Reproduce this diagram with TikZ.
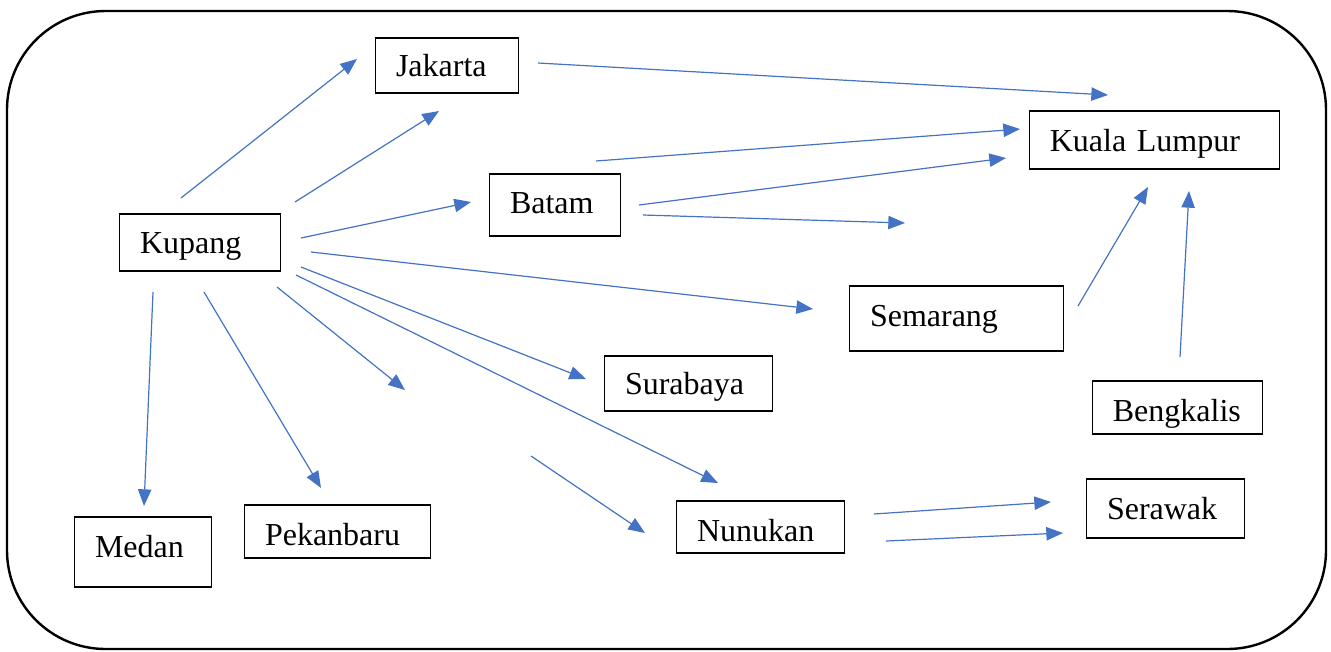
\documentclass[tikz,border=0pt]{standalone}
\usepackage{fontspec}
\setmainfont{Liberation Serif}
\usetikzlibrary{arrows.meta}
\definecolor{routeblue}{RGB}{68,114,196}
\tikzset{
  city/.style={draw, line width=0.8pt, inner xsep=15.5pt, inner ysep=0pt, align=left,
    font=\fontsize{24}{28}\selectfont, text height=20pt, text depth=3.5pt},
  route/.style={draw=routeblue, line width=0.9pt, -{Triangle[length=12.5pt,width=10pt]}}
}
\begin{document}
\begin{tikzpicture}[x=0.75pt, y=-0.75pt]
   \useasboundingbox (0,0) rectangle (1331,651);
   \draw[line width=1.8pt, rounded corners=74pt] (7,11) rectangle (1326,649);
   % cities
   \node[city, text width=76.5pt, minimum height=41.25pt] (J) at (447,65.5) {Jakarta};
   \node[city, text width=157pt, minimum height=43.5pt] (KL) at (1154.5,140) {Kuala Lumpur};
   \node[city, text width=67.5pt, minimum height=46.5pt, text height=15.5pt] (B) at (555,205) {Batam};
   \node[city, text width=90pt, minimum height=42.75pt] (K) at (200,242.5) {Kupang};
   \node[city, text width=129.75pt, minimum height=48.75pt, text height=15.5pt] (Se) at (956.5,318.5) {Semarang};
   \node[city, text width=95.25pt, minimum height=41.25pt] (Su) at (688.5,383.5) {Surabaya};
   \node[city, text width=97pt, minimum height=39.75pt, text height=24.5pt] (Be) at (1177.5,407.5) {Bengkalis};
   \node[city, text width=87.75pt, minimum height=44.25pt] (Sr) at (1165.5,508.5) {Serawak};
   \node[city, text width=95.25pt, minimum height=39pt, text height=24.5pt] (N) at (760.5,527) {Nunukan};
   \node[city, text width=72pt, minimum height=52.5pt, text height=11pt] (M) at (143,552) {Medan};
   \node[city, text width=108.75pt, minimum height=39.75pt, text height=24.5pt] (P) at (337.5,531.5) {Pekanbaru};
   % free ends of the routes
   \coordinate (K1) at (181,198);   \coordinate (J1) at (357,59);
   \coordinate (K2) at (295,202);   \coordinate (J2) at (439,111);
   \coordinate (K3) at (301,238);   \coordinate (B1) at (471,202);
   \coordinate (K4) at (311,252);   \coordinate (Se1) at (813,309);
   \coordinate (K5) at (301,267);   \coordinate (Su1) at (586,379);
   \coordinate (K6) at (296,275);   \coordinate (N1) at (718,483);
   \coordinate (K7) at (277,287);   \coordinate (X1) at (405,390);
   \coordinate (K8) at (204,292);   \coordinate (P1) at (321,488);
   \coordinate (K9) at (153,292);   \coordinate (M1) at (144,506);
   \coordinate (X2) at (531,456);   \coordinate (N2) at (645,533);
   \coordinate (J3) at (538,63);    \coordinate (KL1) at (1108,95);
   \coordinate (B2) at (596,161);   \coordinate (KL2) at (1020,129);
   \coordinate (B3) at (639,205);   \coordinate (KL3) at (1006,158);
   \coordinate (B4) at (643,215);   \coordinate (X3) at (905,223);
   \coordinate (Se2) at (1078,306); \coordinate (KL4) at (1148,187);
   \coordinate (Be1) at (1180,357); \coordinate (KL5) at (1189,191);
   \coordinate (N3) at (874,514);   \coordinate (Sr1) at (1051,502);
   \coordinate (N4) at (886,541);   \coordinate (Sr2) at (1063,533);
   % routes
   \draw[route] (K1) -- (J1);
   \draw[route] (K2) -- (J2);
   \draw[route] (K3) -- (B1);
   \draw[route] (K4) -- (Se1);
   \draw[route] (K5) -- (Su1);
   \draw[route] (K6) -- (N1);
   \draw[route] (K7) -- (X1);
   \draw[route] (K8) -- (P1);
   \draw[route] (K9) -- (M1);
   \draw[route] (X2) -- (N2);
   \draw[route] (J3) -- (KL1);
   \draw[route] (B2) -- (KL2);
   \draw[route] (B3) -- (KL3);
   \draw[route] (B4) -- (X3);
   \draw[route] (Se2) -- (KL4);
   \draw[route] (Be1) -- (KL5);
   \draw[route] (N3) -- (Sr1);
   \draw[route] (N4) -- (Sr2);
\end{tikzpicture}
\end{document}
